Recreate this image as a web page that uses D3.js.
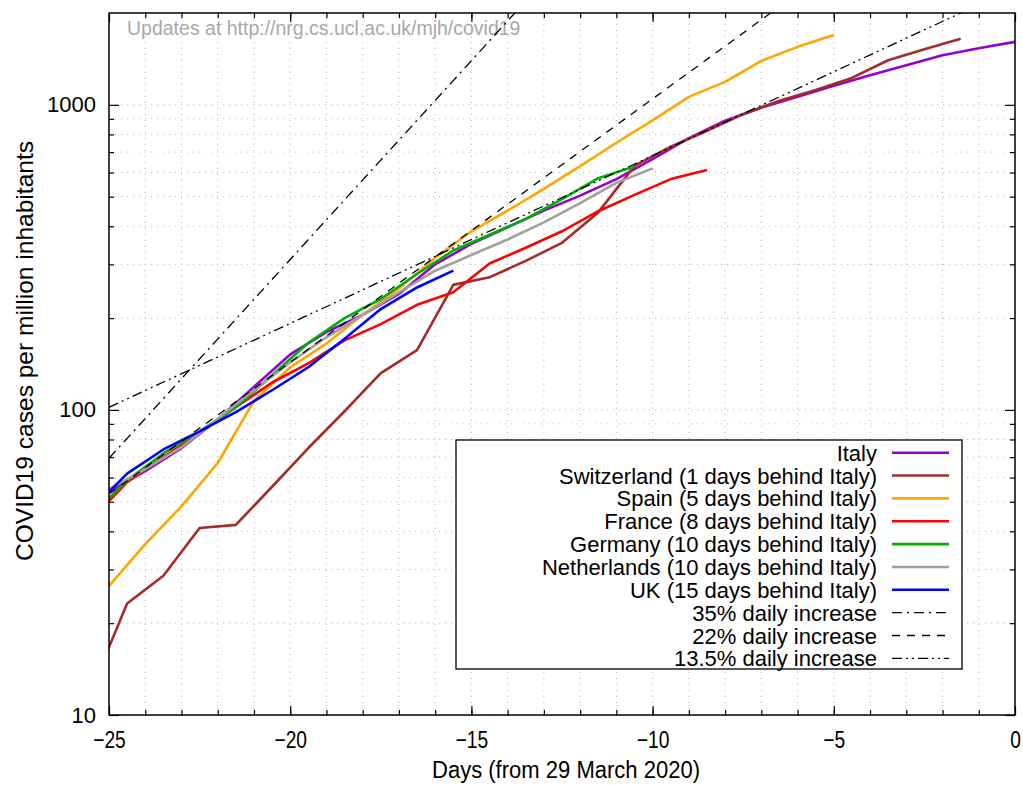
<!DOCTYPE html>
<html><head><meta charset="utf-8">
<script src="https://cdn.jsdelivr.net/npm/d3@7"></script>
<style>
body{margin:0;background:#fff}
text{font-family:"Liberation Sans",Arial,Helvetica,sans-serif}
</style>
</head><body>
<svg id="chart" width="1023" height="785"></svg>
<script>
// ---------- data (cases per million) ----------
const italyStart = -25;
const italy = [54,63,75,93,119,152,180,205,240,300,350,397,450,504,571,664,778,887,980,1062,1154,1251,1349,1455,1533,1608];
const switzerlandStart = -25.5;
const switzerland = [12,23.2,28.6,41,42,56,75,99,132,157,257,272,308,353,444,631,729,822,932,1031,1118,1225,1400,1521,1648];
const spainStart = -25;
const spain = [26.5,36.3,48.3,67,107,138,165,205,250,315,385,450,530,630,751,890,1062,1189,1393,1549,1695];
const franceStart = -25.5;
const france = [43.5,58,70,84,102,123,142,169,191,221,243,302,340,385,448,507,571,611];
const germanyStart = -25.5;
const germany = [45,58.8,72,85,102,130,166,200,231,279,333,375,423,491,575,628];
const netherlandsStart = -25;
const netherlands = [55,64,75.5,93.6,116,143,173,205,243,286,322,362,412,476,555,619];
const ukStart = -25.5;
const uk = [47,61.8,74.2,85,98.4,116,138,171,214,252,286];

const seriesNames = ["Italy","Switzerland (1 days behind Italy)","Spain (5 days behind Italy)","France (8 days behind Italy)","Germany (10 days behind Italy)","Netherlands (10 days behind Italy)","UK (15 days behind Italy)"];
const seriesColors = ["#9400d3","#a52a2a","#ffa500","#ff0000","#00b000","#a0a0a0","#0000ff"];

// reference growth lines: daily rate and value at day -25
const refNames = ["35% daily increase","22% daily increase","13.5% daily increase"];
const refRates = [0.35,0.22,0.135];
const refStartValues = [69.4,53,102];
const refDash = ["10,5,2,5","8,7","10,4,2,4,2,4"];

const xMajorTicks = [-25,-20,-15,-10,-5,0];
const yMajorTicks = [10,100,1000];
const yMinorTicks = [20,30,40,50,60,70,80,90,200,300,400,500,600,700,800,900];
const xTitle = "Days (from 29 March 2020)";
const yTitle = "COVID19 cases per million inhabitants";
const watermark = "Updates at http://nrg.cs.ucl.ac.uk/mjh/covid19";

// ---------- chart ----------
const L=109, R=1015, T=13, B=715;
const svg = d3.select("#chart");
const x = d3.scaleLinear().domain([-25,0]).range([L,R]);
const y = d3.scaleLog().domain([10,2000]).range([B,T]);
const xMinorTicks = d3.range(-24,0);

// grid
const grid = svg.append("g").attr("stroke","#b8b8b8").attr("stroke-width",1).attr("stroke-dasharray","1,5");
grid.selectAll("line.v").data(xMinorTicks).join("line")
  .attr("x1",d=>x(d)).attr("x2",d=>x(d)).attr("y1",B).attr("y2",T);
grid.selectAll("line.h").data(yMinorTicks.concat([100,1000])).join("line")
  .attr("y1",d=>y(d)).attr("y2",d=>y(d)).attr("x1",L).attr("x2",R);

// watermark
svg.append("text").attr("x",127).attr("y",35).attr("font-size",19.5).attr("fill","#a8a8a8").text(watermark);

// axes (ticks inward, on all four sides)
function strip(g){ g.select(".domain").remove(); g.selectAll("line").attr("stroke","#000").attr("stroke-width",1.2); }
svg.append("g").attr("transform",`translate(0,${B})`)
  .call(d3.axisBottom(x).tickValues(xMinorTicks).tickSize(-5).tickFormat("")).call(strip);
const bx = svg.append("g").attr("transform",`translate(0,${B})`)
  .call(d3.axisBottom(x).tickValues(xMajorTicks).tickSize(-9).tickPadding(16).tickFormat(d3.format("d"))).call(strip);
bx.selectAll("text").attr("font-size",24).attr("fill","#000").style("font-family","Liberation Sans, Arial, sans-serif")
  .each(function(){ const w=this.getComputedTextLength(); d3.select(this).attr("textLength",w*0.8).attr("lengthAdjust","spacingAndGlyphs"); });
svg.append("g").attr("transform",`translate(0,${T})`)
  .call(d3.axisTop(x).tickValues(xMinorTicks).tickSize(-5).tickFormat("")).call(strip);
svg.append("g").attr("transform",`translate(0,${T})`)
  .call(d3.axisTop(x).tickValues(xMajorTicks).tickSize(-9).tickFormat("")).call(strip);

svg.append("g").attr("transform",`translate(${L},0)`)
  .call(d3.axisLeft(y).tickValues(yMinorTicks).tickSize(-5).tickFormat("")).call(strip);
const ly = svg.append("g").attr("transform",`translate(${L},0)`)
  .call(d3.axisLeft(y).tickValues(yMajorTicks).tickSize(-10).tickPadding(13).tickFormat(d3.format("d"))).call(strip);
ly.selectAll("text").attr("font-size",22).attr("fill","#000").style("font-family","Liberation Sans, Arial, sans-serif");
svg.append("g").attr("transform",`translate(${R},0)`)
  .call(d3.axisRight(y).tickValues(yMinorTicks).tickSize(-5).tickFormat("")).call(strip);
svg.append("g").attr("transform",`translate(${R},0)`)
  .call(d3.axisRight(y).tickValues(yMajorTicks).tickSize(-10).tickFormat("")).call(strip);

// clip
svg.append("clipPath").attr("id","plotclip").append("rect").attr("x",L).attr("y",T).attr("width",R-L).attr("height",B-T);
const plot = svg.append("g").attr("clip-path","url(#plotclip)");

const allSeries = [
  [italyStart, italy],[switzerlandStart, switzerland],[spainStart, spain],[franceStart, france],
  [germanyStart, germany],[netherlandsStart, netherlands],[ukStart, uk]
];
const line = d3.line().x(d=>x(d.day)).y(d=>y(d.v));
allSeries.forEach(([start, vals], i)=>{
  const pts = vals.map((v,k)=>({day:start+k, v:v}));
  plot.append("path").datum(pts).attr("d",line).attr("fill","none")
    .attr("stroke",seriesColors[i]).attr("stroke-width",2.6).attr("stroke-linejoin","round");
});
refRates.forEach((r,i)=>{
  const pts = [-25,0].map(d=>({day:d, v:refStartValues[i]*Math.pow(1+r,d+25)}));
  plot.append("path").datum(pts).attr("d",line).attr("fill","none")
    .attr("stroke","#000").attr("stroke-width",1.3).attr("stroke-dasharray",refDash[i]);
});

// frame
svg.append("rect").attr("x",L).attr("y",T).attr("width",R-L).attr("height",B-T)
  .attr("fill","none").attr("stroke","#000").attr("stroke-width",1.5);

// titles
svg.append("text").attr("x",566).attr("y",778).attr("text-anchor","middle").attr("font-size",23)
  .attr("textLength",268).attr("lengthAdjust","spacingAndGlyphs").text(xTitle);
svg.append("text").attr("transform","translate(33,351) rotate(-90)").attr("text-anchor","middle").attr("font-size",24)
  .attr("textLength",420).attr("lengthAdjust","spacingAndGlyphs").text(yTitle);

// legend
const lg = svg.append("g");
lg.append("rect").attr("x",456).attr("y",440).attr("width",506).attr("height",229)
  .attr("fill","#fff").attr("stroke","#000").attr("stroke-width",1.3);
const legendItems = seriesNames.map((n,i)=>({name:n, color:seriesColors[i], dash:null, w:2.6}))
  .concat(refNames.map((n,i)=>({name:n, color:"#000", dash:refDash[i], w:1.3})));
const rowY = d3.scaleLinear().domain([0,1]).range([452.7,452.7+22.85]);
legendItems.forEach((it,i)=>{
  const yy = rowY(i);
  lg.append("text").attr("x",877).attr("y",yy+8).attr("text-anchor","end").attr("font-size",22).text(it.name);
  lg.append("line").attr("x1",892).attr("x2",949).attr("y1",yy).attr("y2",yy)
    .attr("stroke",it.color).attr("stroke-width",it.w).attr("stroke-dasharray",it.dash);
});
</script>
</body></html>
